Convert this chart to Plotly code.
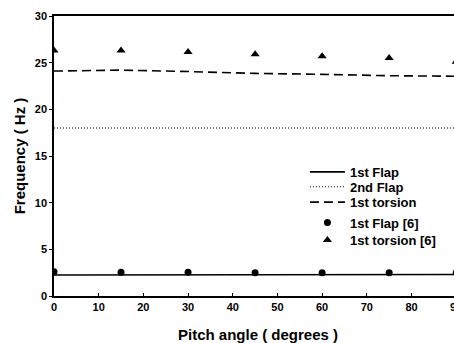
import plotly.graph_objects as go

pitch = [0, 15, 30, 45, 60, 75, 90]
flap1 = [2.25, 2.25, 2.25, 2.25, 2.25, 2.25, 2.3]
flap2 = [18.0, 18.0, 18.0, 18.0, 18.0, 18.0, 18.0]
torsion1 = [24.1, 24.2, 24.05, 23.85, 23.75, 23.6, 23.55]
flap1_ref = [2.6, 2.55, 2.55, 2.5, 2.5, 2.5, 2.5]
torsion1_ref = [26.3, 26.3, 26.15, 25.9, 25.7, 25.5, 25.1]

x_ticks = [0, 10, 20, 30, 40, 50, 60, 70, 80, 90]
y_ticks = [0, 5, 10, 15, 20, 25, 30]

FONT = "Liberation Sans, Arial, sans-serif"

fig = go.Figure()
fig.add_trace(go.Scatter(x=pitch, y=flap1, mode="lines", name="1st Flap", legend="legend",
                         line=dict(color="black", width=1.6)))
fig.add_trace(go.Scatter(x=pitch, y=flap2, mode="lines", name="2nd Flap", legend="legend2",
                         line=dict(color="black", width=1.2, dash="1px,2px")))
fig.add_trace(go.Scatter(x=pitch, y=torsion1, mode="lines", name="1st torsion", legend="legend3",
                         line=dict(color="black", width=1.6, dash="9px,5px")))
fig.add_trace(go.Scatter(x=pitch, y=flap1_ref, mode="markers", name="1st Flap [6]", legend="legend4",
                         marker=dict(color="black", symbol="circle", size=7)))
fig.add_trace(go.Scatter(x=pitch, y=torsion1_ref, mode="markers", name="1st torsion [6]", legend="legend5",
                         marker=dict(color="black", symbol="triangle-up", size=8)))

legend_y = [0.443, 0.390, 0.335, 0.2625, 0.2]
leg_common = dict(x=0.615, xanchor="left", yanchor="middle", bgcolor="rgba(0,0,0,0)",
                  font=dict(size=13, family=FONT, weight="bold", color="black"),
                  itemwidth=35, tracegroupgap=0)

# The original figure is cropped on the right: the plot runs a few pixels past the 454px window.
fig.update_layout(
    width=462, height=343,
    margin=dict(l=54, r=0, t=16, b=47),
    paper_bgcolor="white", plot_bgcolor="white",
    font=dict(family=FONT, color="black", weight="bold"),
    showlegend=True,
    legend=dict(y=legend_y[0], **leg_common),
    legend2=dict(y=legend_y[1], **leg_common),
    legend3=dict(y=legend_y[2], **leg_common),
    legend4=dict(y=legend_y[3], **leg_common),
    legend5=dict(y=legend_y[4], **leg_common),
    xaxis=dict(range=[0, 91.3], tickvals=x_ticks, automargin=False, ticklabeloverflow="allow",
               showgrid=False, zeroline=False, showline=True, linecolor="black",
               linewidth=1.5, mirror=True, ticks="inside", ticklen=3, tickcolor="black",
               tickfont=dict(size=11, family=FONT, weight="bold"),
               title=dict(text="Pitch angle ( degrees )", standoff=19,
                          font=dict(size=15, family=FONT, weight="bold"))),
    yaxis=dict(range=[0, 30], tickvals=y_ticks, automargin=False,
               showgrid=False, zeroline=False, showline=True, linecolor="black",
               linewidth=1.5, mirror=True, ticks="outside", ticklen=3, tickcolor="black",
               tickfont=dict(size=11, family=FONT, weight="bold"),
               title=dict(text="Frequency ( Hz )", standoff=6,
                          font=dict(size=15, family=FONT, weight="bold"))),
)

fig.write_html("out.html", config={"displayModeBar": False},
               post_script="document.body.style.margin='0';document.body.style.overflow='hidden';")
